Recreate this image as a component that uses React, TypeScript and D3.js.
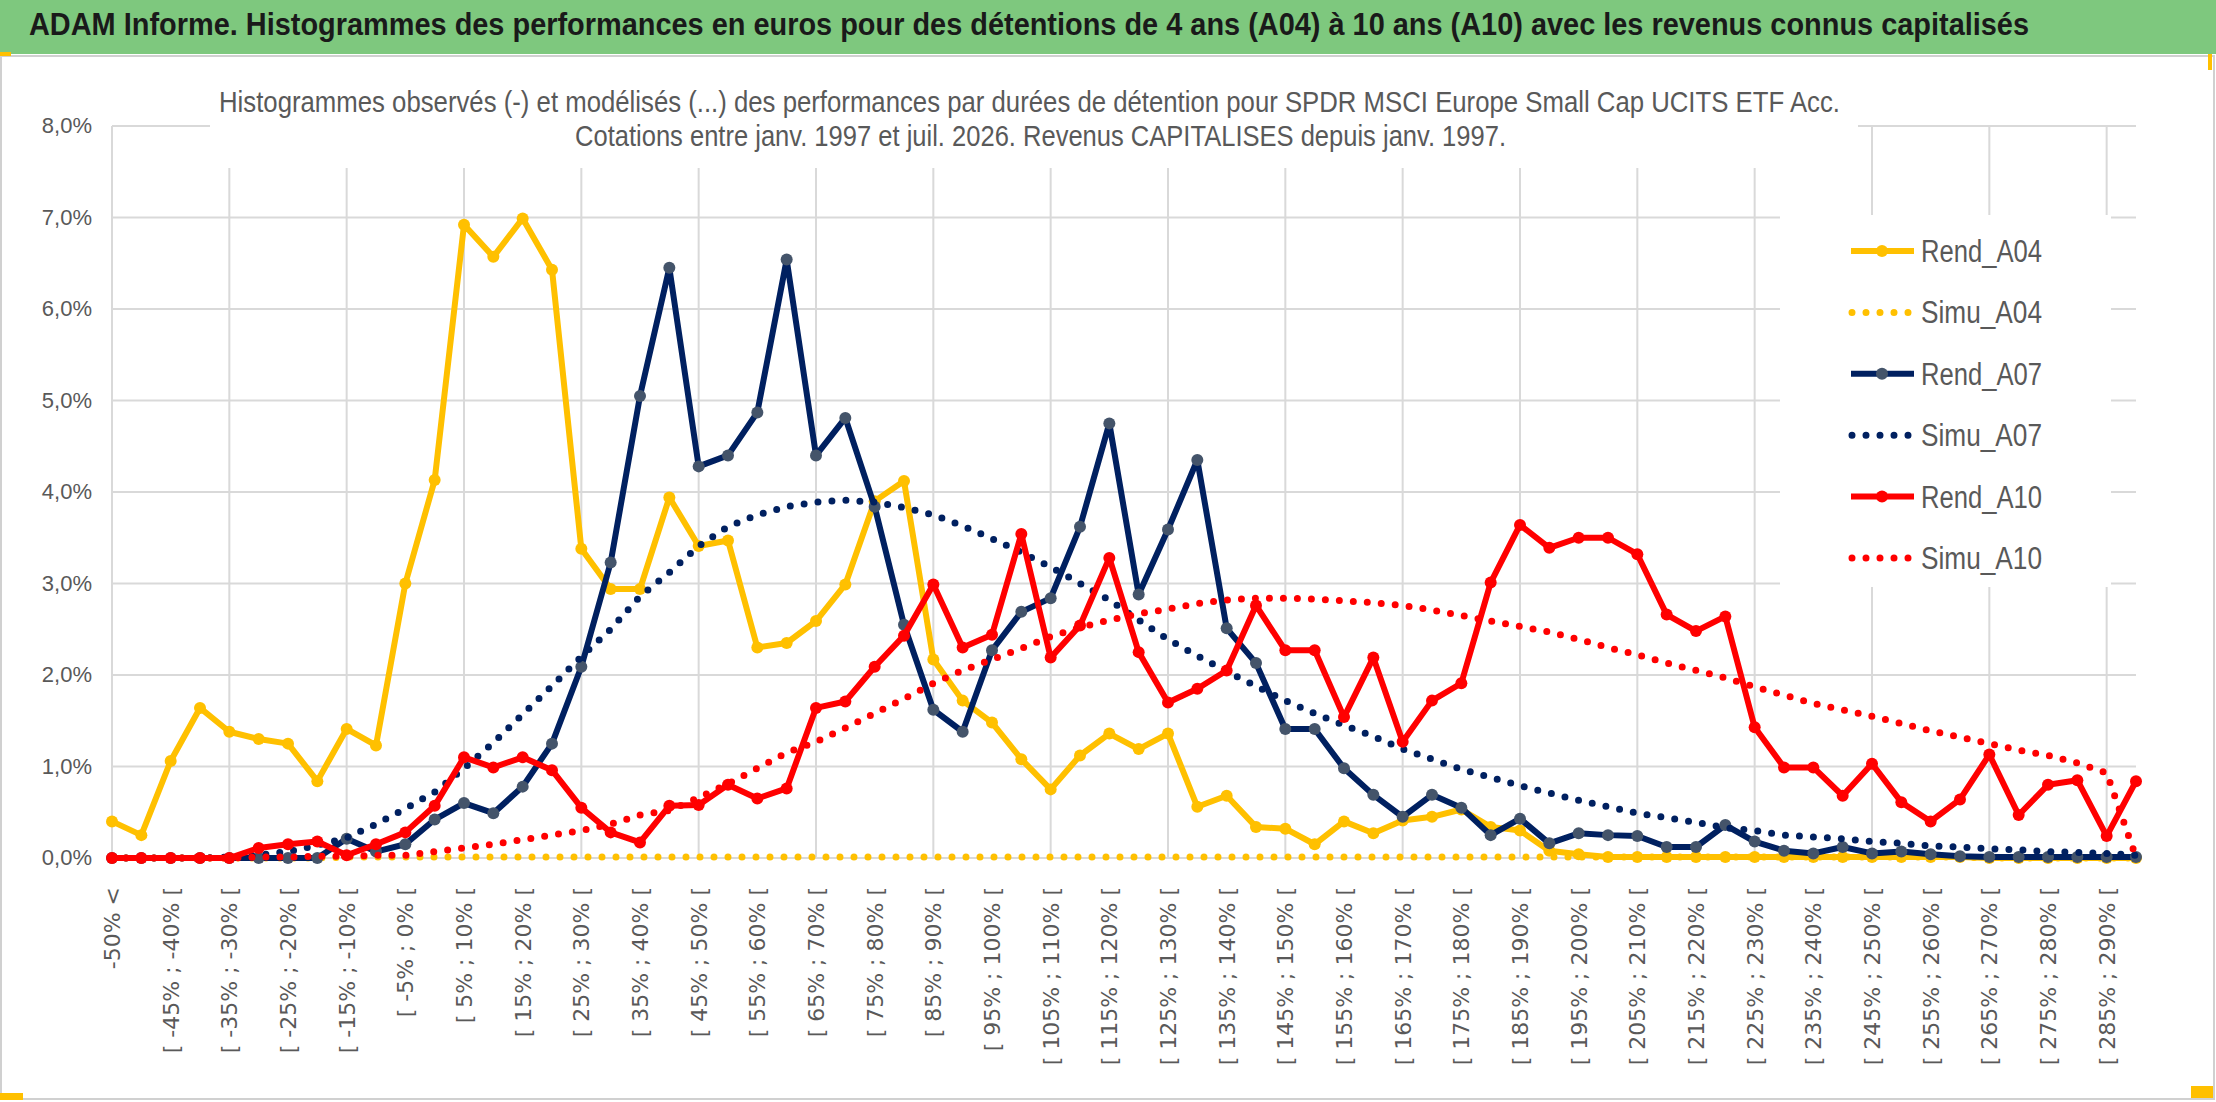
import React, { useEffect, useRef } from 'react';
import * as d3 from 'd3';

const title = 'ADAM Informe. Histogrammes des performances en euros pour des détentions de 4 ans (A04) à 10 ans (A10) avec les revenus connus capitalisés';
const subtitle1 = 'Histogrammes observés (-) et modélisés (...) des performances par durées de détention pour SPDR MSCI Europe Small Cap UCITS ETF Acc.';
const subtitle2 = 'Cotations entre janv. 1997 et juil. 2026. Revenus CAPITALISES depuis janv. 1997.';

const lowerBounds = [-50, -45, -40, -35, -30, -25, -20, -15, -10, -5, 0, 5, 10, 15, 20, 25, 30, 35, 40, 45, 50, 55, 60, 65, 70, 75, 80, 85, 90, 95, 100, 105, 110, 115, 120, 125, 130, 135, 140, 145, 150, 155, 160, 165, 170, 175, 180, 185, 190, 195, 200, 205, 210, 215, 220, 225, 230, 235, 240, 245, 250, 255, 260, 265, 270, 275, 280, 285, 290];
const categories = ['-50% <', ...lowerBounds.map(a => `[ ${a}% ; ${a + 5}% [`)];

const rendA04 = [0.40, 0.25, 1.06, 1.64, 1.38, 1.30, 1.25, 0.84, 1.41, 1.23, 3.00, 4.13, 6.92, 6.57, 6.99, 6.43, 3.38, 2.94, 2.94, 3.94, 3.41, 3.47, 2.30, 2.35, 2.59, 2.99, 3.90, 4.12, 2.17, 1.72, 1.48, 1.08, 0.75, 1.12, 1.36, 1.19, 1.36, 0.56, 0.68, 0.34, 0.32, 0.15, 0.40, 0.27, 0.41, 0.45, 0.53, 0.34, 0.30, 0.08, 0.04, 0.01, 0.01, 0.01, 0.01, 0.01, 0.01, 0.01, 0.01, 0.01, 0.01, 0.01, 0.01, 0.01, 0, 0, 0, 0, 0, 0];
const simuA04 = [0, 0, 0, 0, 0, 0, 0, 0, 0.01, 0.01, 0.01, 0.01, 0.01, 0.01, 0.01, 0.01, 0.01, 0.01, 0.01, 0.01, 0.01, 0.01, 0.01, 0.01, 0.01, 0.01, 0.01, 0.01, 0.01, 0.01, 0.01, 0.01, 0.01, 0.01, 0.01, 0.01, 0.01, 0.01, 0.01, 0.01, 0.01, 0.01, 0.01, 0.01, 0.01, 0.01, 0.01, 0.01, 0.01, 0.01, 0.01, 0.01, 0.01, 0.01, 0.01, 0.01, 0.01, 0.01, 0.01, 0.01, 0.01, 0.01, 0.01, 0.01, 0, 0, 0, 0, 0, 0];
const rendA07 = [0, 0, 0, 0, 0, 0, 0, 0, 0.21, 0.07, 0.15, 0.42, 0.60, 0.49, 0.78, 1.25, 2.09, 3.23, 5.05, 6.45, 4.28, 4.40, 4.87, 6.54, 4.40, 4.81, 3.84, 2.55, 1.62, 1.38, 2.27, 2.69, 2.84, 3.62, 4.75, 2.88, 3.59, 4.35, 2.51, 2.13, 1.41, 1.41, 0.98, 0.69, 0.45, 0.69, 0.55, 0.25, 0.43, 0.16, 0.27, 0.25, 0.24, 0.12, 0.12, 0.36, 0.18, 0.08, 0.05, 0.12, 0.05, 0.07, 0.04, 0.02, 0.01, 0.01, 0.01, 0.01, 0.01, 0.01];
const simuA07 = [0, 0, 0, 0, 0.01, 0.03, 0.07, 0.14, 0.22, 0.37, 0.54, 0.72, 0.98, 1.26, 1.57, 1.88, 2.20, 2.50, 2.86, 3.12, 3.41, 3.62, 3.75, 3.84, 3.89, 3.91, 3.89, 3.83, 3.75, 3.63, 3.49, 3.34, 3.18, 3.00, 2.82, 2.60, 2.39, 2.21, 2.04, 1.88, 1.72, 1.58, 1.45, 1.33, 1.19, 1.08, 0.97, 0.88, 0.79, 0.71, 0.63, 0.56, 0.49, 0.44, 0.39, 0.33, 0.30, 0.25, 0.23, 0.21, 0.18, 0.16, 0.13, 0.12, 0.10, 0.09, 0.07, 0.06, 0.05, 0.03];
const rendA10 = [0, 0, 0, 0, 0, 0.11, 0.15, 0.18, 0.03, 0.15, 0.28, 0.57, 1.10, 0.99, 1.10, 0.96, 0.55, 0.28, 0.17, 0.57, 0.58, 0.80, 0.65, 0.76, 1.64, 1.71, 2.09, 2.43, 2.99, 2.30, 2.44, 3.54, 2.19, 2.54, 3.28, 2.25, 1.70, 1.85, 2.05, 2.76, 2.27, 2.27, 1.54, 2.19, 1.27, 1.72, 1.91, 3.01, 3.64, 3.39, 3.50, 3.50, 3.32, 2.66, 2.48, 2.64, 1.43, 0.99, 0.99, 0.68, 1.03, 0.61, 0.40, 0.64, 1.13, 0.47, 0.80, 0.85, 0.24, 0.84];
const simuA10 = [0, 0, 0, 0, 0, 0.01, 0.01, 0.02, 0.02, 0.03, 0.03, 0.07, 0.11, 0.15, 0.20, 0.25, 0.30, 0.37, 0.47, 0.52, 0.66, 0.81, 0.98, 1.15, 1.27, 1.42, 1.58, 1.74, 1.91, 2.05, 2.17, 2.29, 2.42, 2.52, 2.60, 2.67, 2.72, 2.78, 2.82, 2.84, 2.84, 2.83, 2.81, 2.79, 2.76, 2.71, 2.65, 2.59, 2.53, 2.47, 2.39, 2.30, 2.22, 2.13, 2.05, 1.97, 1.87, 1.78, 1.69, 1.62, 1.55, 1.47, 1.39, 1.32, 1.25, 1.18, 1.12, 1.04, 0.93, 0.01];

const yTicks = [0, 1, 2, 3, 4, 5, 6, 7, 8];

const series = [
  { name: 'Rend_A04', values: rendA04, color: '#ffc000', marker: '#ffc000', dotted: false },
  { name: 'Simu_A04', values: simuA04, color: '#ffc000', marker: '', dotted: true },
  { name: 'Rend_A07', values: rendA07, color: '#002060', marker: '#44546a', dotted: false },
  { name: 'Simu_A07', values: simuA07, color: '#002060', marker: '', dotted: true },
  { name: 'Rend_A10', values: rendA10, color: '#ff0000', marker: '#ff0000', dotted: false },
  { name: 'Simu_A10', values: simuA10, color: '#ff0000', marker: '', dotted: true },
];

const FONT = "'Liberation Sans Narrow', 'Liberation Sans', Arial, sans-serif";

const Chart = () => {
  const svgRef = useRef<SVGSVGElement | null>(null);

  useEffect(() => {
    const svg = d3.select(svgRef.current);
    svg.selectAll('*').remove();

    const x = d3.scalePoint<number>().domain(d3.range(categories.length)).range([112, 2136]);
    const y = d3.scaleLinear().domain([0, 8]).range([858, 126]);

    // frame and title bar
    svg.append('rect').attr('x', 0).attr('y', 0).attr('width', 2216).attr('height', 1102).attr('fill', '#fff');
    svg.append('rect').attr('x', 1).attr('y', 56).attr('width', 2213).attr('height', 1043)
      .attr('fill', 'none').attr('stroke', '#d0d0d0').attr('stroke-width', 2);
    svg.append('rect').attr('x', 0).attr('y', 0).attr('width', 2216).attr('height', 54).attr('fill', '#7ec87e');
    svg.append('rect').attr('x', 0).attr('y', 52).attr('width', 11).attr('height', 4).attr('fill', '#ffc000');
    svg.append('rect').attr('x', 2208).attr('y', 54).attr('width', 4).attr('height', 16).attr('fill', '#ffc000');
    svg.append('rect').attr('x', 0).attr('y', 1093).attr('width', 23).attr('height', 7).attr('fill', '#ffc000');
    svg.append('rect').attr('x', 2191).attr('y', 1086).attr('width', 22).attr('height', 12).attr('fill', '#ffc000');
    svg.append('text').attr('x', 29).attr('y', 35).attr('textLength', 2000).attr('lengthAdjust', 'spacingAndGlyphs')
      .attr('font-family', FONT).attr('font-size', 31).attr('font-weight', 'bold').attr('fill', '#1a1a1a').text(title);

    // grid
    const g = svg.append('g');
    g.selectAll('line.h').data(yTicks).join('line')
      .attr('x1', 112).attr('x2', 2136).attr('y1', d => y(d)).attr('y2', d => y(d))
      .attr('stroke', '#d9d9d9').attr('stroke-width', 2);
    g.selectAll('line.v').data(d3.range(0, categories.length, 4)).join('line')
      .attr('x1', d => x(d)!).attr('x2', d => x(d)!).attr('y1', 126).attr('y2', 858)
      .attr('stroke', '#d9d9d9').attr('stroke-width', 2);

    // y labels
    g.selectAll('text.y').data(yTicks).join('text')
      .attr('x', 92).attr('y', d => y(d) + 7).attr('text-anchor', 'end')
      .attr('font-family', FONT).attr('font-size', 22).attr('fill', '#595959')
      .text(d => d3.format('.1f')(d).replace('.', ',') + '%');

    // x labels (every other)
    g.selectAll('text.x').data(d3.range(0, categories.length, 2)).join('text')
      .attr('transform', d => `translate(${x(d)! + 8},887) rotate(-90)`)
      .attr('text-anchor', 'end')
      .attr('font-family', "'DejaVu Sans', sans-serif").attr('font-size', 22).attr('fill', '#595959')
      .text(d => categories[d]);

    // title box and legend box (white, cover gridlines)
    svg.append('rect').attr('x', 210).attr('y', 80).attr('width', 1648).attr('height', 88).attr('fill', '#fff');
    svg.append('text').attr('x', 219).attr('y', 112).attr('textLength', 1621).attr('lengthAdjust', 'spacingAndGlyphs')
      .attr('font-family', FONT).attr('font-size', 29).attr('fill', '#595959').text(subtitle1);
    svg.append('text').attr('x', 575).attr('y', 146).attr('textLength', 931).attr('lengthAdjust', 'spacingAndGlyphs')
      .attr('font-family', FONT).attr('font-size', 29).attr('fill', '#595959').text(subtitle2);
    svg.append('rect').attr('x', 1780).attr('y', 215).attr('width', 331).attr('height', 372).attr('fill', '#fff');

    const line = d3.line<number>().x((_, i) => x(i)!).y(d => y(d));
    series.forEach(s => {
      if (s.dotted) {
        svg.append('path').attr('d', line(s.values)).attr('fill', 'none').attr('stroke', s.color)
          .attr('stroke-width', 7).attr('stroke-linecap', 'round').attr('stroke-dasharray', '0 14');
      } else {
        svg.append('path').attr('d', line(s.values)).attr('fill', 'none').attr('stroke', s.color)
          .attr('stroke-width', 6).attr('stroke-linejoin', 'round');
        svg.append('g').selectAll('circle').data(s.values).join('circle')
          .attr('cx', (_, i) => x(i)!).attr('cy', d => y(d)).attr('r', 6).attr('fill', s.marker);
      }
    });

    // legend
    const legendY = d3.scalePoint<string>().domain(series.map(s => s.name)).range([251, 558]);
    series.forEach(s => {
      const ly = legendY(s.name)!;
      if (s.dotted) {
        svg.append('line').attr('x1', 1852).attr('x2', 1912).attr('y1', ly).attr('y2', ly).attr('stroke', s.color)
          .attr('stroke-width', 7).attr('stroke-linecap', 'round').attr('stroke-dasharray', '0 14');
      } else {
        svg.append('line').attr('x1', 1851).attr('x2', 1914).attr('y1', ly).attr('y2', ly).attr('stroke', s.color).attr('stroke-width', 6);
        svg.append('circle').attr('cx', 1882).attr('cy', ly).attr('r', 6).attr('fill', s.marker);
      }
      svg.append('text').attr('x', 1921).attr('y', ly + 11).attr('textLength', 121).attr('lengthAdjust', 'spacingAndGlyphs')
        .attr('font-family', FONT).attr('font-size', 31).attr('fill', '#595959').text(s.name);
    });
  }, []);

  return <svg ref={svgRef} width={2216} height={1102} style={{ position: 'absolute', left: 0, top: 0 }} />;
};

export default function App() {
  return <Chart />;
}
